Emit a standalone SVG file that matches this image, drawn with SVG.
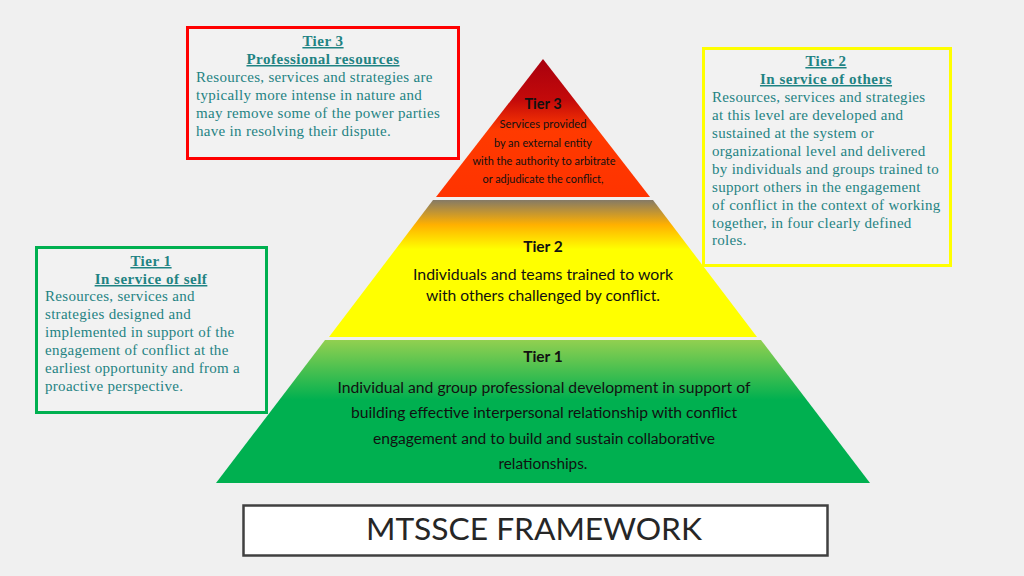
<svg xmlns="http://www.w3.org/2000/svg" width="1024" height="576" viewBox="0 0 1024 576">
<style>
.bg{fill:#F0F0F0}
.box{fill:#F2F2F2;stroke-width:3}
.tl{font-family:"Liberation Serif","DejaVu Serif",serif;font-size:15px;fill:#1F8383;letter-spacing:0.3px}
.th{font-weight:bold;text-decoration:underline;text-anchor:middle;letter-spacing:0.5px}
.py{font-family:Lato,"Open Sans",sans-serif;fill:#111;text-anchor:middle}
.pb{font-weight:bold}
</style>
<defs>
<linearGradient id="gRed" x1="0" y1="0" x2="0" y2="1">
<stop offset="0" stop-color="#A8000E"/>
<stop offset="0.3" stop-color="#C40A0A"/>
<stop offset="0.52" stop-color="#FF3A00"/>
<stop offset="1" stop-color="#FF3300"/>
</linearGradient>
<linearGradient id="gYel" x1="0" y1="0" x2="0" y2="1">
<stop offset="0" stop-color="#857A66"/>
<stop offset="0.18" stop-color="#FFB000"/>
<stop offset="0.36" stop-color="#FFFF00"/>
<stop offset="1" stop-color="#FFFF00"/>
</linearGradient>
<linearGradient id="gGrn" x1="0" y1="0" x2="0" y2="1">
<stop offset="0" stop-color="#92D050"/>
<stop offset="0.42" stop-color="#00B050"/>
<stop offset="1" stop-color="#00B050"/>
</linearGradient>
</defs>
<rect class="bg" x="0" y="0" width="1024" height="576"/>

<g id="pyramid-tier3">
<polygon points="543,59 650,197 436,197" fill="url(#gRed)"/>
<text class="py pb" x="543" y="109" font-size="14.5">Tier 3</text>
<text class="py" x="543" y="128" font-size="10.5" textLength="87" lengthAdjust="spacingAndGlyphs">Services  provided</text>
<text class="py" x="543" y="147" font-size="10.5" textLength="98" lengthAdjust="spacingAndGlyphs">by an external entity</text>
<text class="py" x="544" y="165" font-size="10.5" textLength="143" lengthAdjust="spacingAndGlyphs">with the authority to arbitrate</text>
<text class="py" x="543" y="183" font-size="10.5" textLength="121" lengthAdjust="spacingAndGlyphs">or adjudicate the conflict,</text>
</g>

<g id="pyramid-tier2">
<polygon points="433,200 653,200 757,337 329,337" fill="url(#gYel)"/>
<text class="py pb" x="543" y="252" font-size="15.5">Tier 2</text>
<text class="py" x="543" y="280" font-size="15.5" textLength="260" lengthAdjust="spacingAndGlyphs">Individuals and teams trained to work</text>
<text class="py" x="543" y="301" font-size="15.5" textLength="234" lengthAdjust="spacingAndGlyphs">with others challenged by conflict.</text>
</g>

<g id="pyramid-tier1">
<polygon points="325,340 761,340 870,483 216,483" fill="url(#gGrn)"/>
<text class="py pb" x="543" y="362" font-size="15.5">Tier 1</text>
<text class="py" x="544" y="393" font-size="15.5" textLength="413" lengthAdjust="spacingAndGlyphs">Individual and group professional development in support of</text>
<text class="py" x="544" y="418" font-size="15.5" textLength="386" lengthAdjust="spacingAndGlyphs">building effective interpersonal relationship with conflict</text>
<text class="py" x="544" y="444" font-size="15.5" textLength="342" lengthAdjust="spacingAndGlyphs">engagement and to build and sustain collaborative</text>
<text class="py" x="543" y="469" font-size="15.5" textLength="89" lengthAdjust="spacingAndGlyphs">relationships.</text>
</g>

<g id="tier3-box">
<rect class="box" x="187.5" y="27.5" width="271" height="131" stroke="#FF0000"/>
<text class="tl th" x="323" y="46">Tier 3</text>
<text class="tl th" x="323" y="64">Professional resources</text>
<text class="tl" x="196" y="82">Resources, services and strategies are</text>
<text class="tl" x="196" y="100">typically more intense in nature and</text>
<text class="tl" x="196" y="118">may remove some of the power parties</text>
<text class="tl" x="196" y="136">have in resolving their dispute.</text>
</g>

<g id="tier2-box">
<rect class="box" x="703.5" y="48.5" width="247" height="217" stroke="#FFFF00"/>
<text class="tl th" x="826" y="66">Tier 2</text>
<text class="tl th" x="826" y="84">In service of others</text>
<text class="tl" x="712" y="102">Resources, services and strategies</text>
<text class="tl" x="712" y="120">at this level are developed and</text>
<text class="tl" x="712" y="138">sustained at the system or</text>
<text class="tl" x="712" y="156">organizational level and delivered</text>
<text class="tl" x="712" y="174">by individuals and groups trained to</text>
<text class="tl" x="712" y="192">support others in the engagement</text>
<text class="tl" x="712" y="210">of conflict in the context of working</text>
<text class="tl" x="712" y="228">together, in four clearly defined</text>
<text class="tl" x="712" y="245">roles.</text>
</g>

<g id="tier1-box">
<rect class="box" x="36.5" y="247.5" width="230" height="165" stroke="#00B050"/>
<text class="tl th" x="151" y="266">Tier 1</text>
<text class="tl th" x="151" y="284">In service of self</text>
<text class="tl" x="45" y="301">Resources, services and</text>
<text class="tl" x="45" y="319">strategies designed and</text>
<text class="tl" x="45" y="337">implemented in support of the</text>
<text class="tl" x="45" y="355">engagement of conflict at the</text>
<text class="tl" x="45" y="373">earliest opportunity and from a</text>
<text class="tl" x="45" y="391">proactive perspective.</text>
</g>

<g id="title">
<rect x="243.5" y="505.5" width="584" height="50" fill="#FFFFFF" stroke="#404040" stroke-width="2.5"/>
<text x="534" y="540" font-family="Lato,'Open Sans',sans-serif" font-size="31" fill="#262626" text-anchor="middle" textLength="336" lengthAdjust="spacingAndGlyphs">MTSSCE FRAMEWORK</text>
</g>

<g id="connectors"/>
</svg>
